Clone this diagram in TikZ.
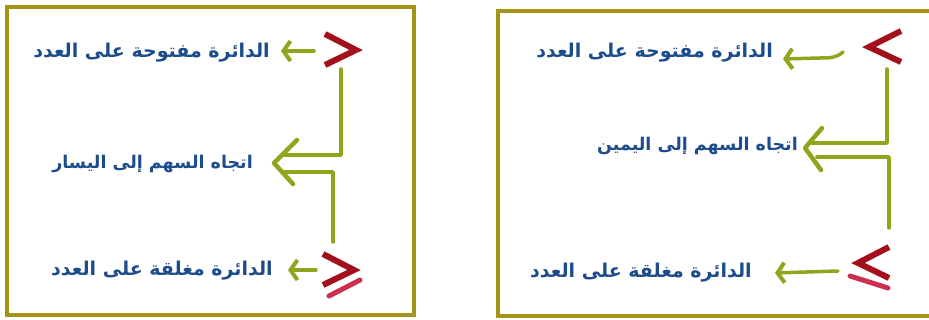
\documentclass[tikz,border=0pt]{standalone}
\usepackage{fontspec}
\newfontfamily\arabicfont[Script=Arabic]{DejaVu Sans}
\TeXXeTstate=1
\usetikzlibrary{arrows.meta}
\definecolor{frame}{HTML}{A39414}
\definecolor{grn}{HTML}{8FA51C}
\definecolor{rd}{HTML}{A3101C}
\definecolor{pk}{HTML}{CC3050}
\definecolor{txt}{HTML}{1C4C8C}
\begin{document}
\begin{tikzpicture}[x=1pt,y=-1pt,
  lbl/.style={font=\arabicfont\bfseries\fontsize{19}{22}\selectfont, text=txt, anchor=east, inner sep=0pt},
  lblm/.style={lbl, font=\arabicfont\bfseries\fontsize{17.5}{21}\selectfont},
  box/.style={draw=frame, line width=3.5pt},
  rel/.style={draw=rd, line width=6pt, line join=miter},
  bar/.style={draw=pk, line width=5pt, line cap=round},
  grnline/.style={draw=grn, line width=3.5pt, line cap=round, line join=round},
  gar/.style={grnline, -{Straight Barb[length=7pt, width=20pt, line width=4pt]}},
]
\clip (0,0) rectangle (929,320);
% frames
\draw[box] (7,7) rectangle (414,315);
\draw[box] (498,11) rectangle (945,316);
% ---------- left panel ----------
\node[lbl] (L1) at (270,53) {\beginR الدائرة مفتوحة على العدد\endR};
\node[lblm] (L2) at (253,164) {\beginR اتجاه السهم إلى اليسار\endR};
\node[lbl] (L3) at (273,271) {\beginR الدائرة مغلقة على العدد\endR};
\draw[rel] (325,34) -- (356,50) -- (325,65);
\draw[rel] (323,254) -- (354,270) -- (323,285);
\draw[bar] (329,296) -- (360,280);
\coordinate (LA1) at (314,51);
\coordinate (LA3) at (316,270);
\draw[gar] (LA1) -- ([xshift=11pt]L1.east |- LA1);
\draw[gar] (LA3) -- ([xshift=15pt]L3.east |- LA3);
\coordinate (LBt) at (341,69);
\coordinate (LBc1) at (341,155);
\coordinate (LBe1) at (285,155);
\coordinate (LBb) at (333,242);
\coordinate (LBc2) at (333,172);
\coordinate (LBe2) at (283,172);
\draw[grnline] (LBt) -- (LBc1) -- (LBe1);
\draw[grnline] (LBb) -- (LBc2) -- (LBe2);
\draw[grnline, line width=4.5pt] (297,140) -- (274,163) -- (293,184);
% ---------- right panel ----------
\node[lbl] (R1) at (773,53) {\beginR الدائرة مفتوحة على العدد\endR};
\node[lblm] (R2) at (798,146) {\beginR اتجاه السهم إلى اليمين\endR};
\node[lbl] (R3) at (752,273) {\beginR الدائرة مغلقة على العدد\endR};
\draw[rel] (901,31) -- (869,47) -- (901,62);
\draw[rel] (889,247) -- (858,263) -- (889,278);
\draw[bar] (850,276) -- (888,288);
\coordinate (RA1) at (843,52);
\coordinate (RA3) at (838,271);
\draw[gar] (RA1) .. controls (836,58) and (830,58) .. (820,58) -- ([xshift=10pt]R1.east |- 0,59);
\draw[gar] (RA3) -- ([xshift=23pt]R3.east |- 0,273);
\coordinate (RBt) at (887,69);
\coordinate (RBc1) at (887,143);
\coordinate (RBe1) at (812,143);
\coordinate (RBb) at (889,228);
\coordinate (RBc2) at (889,157);
\coordinate (RBe2) at (817,157);
\draw[grnline] (RBt) -- (RBc1) -- (RBe1);
\draw[grnline] (RBb) -- (RBc2) -- (RBe2);
\draw[grnline, line width=4.5pt] (822,128) -- (805,148) -- (821,170);
\end{tikzpicture}
\end{document}
